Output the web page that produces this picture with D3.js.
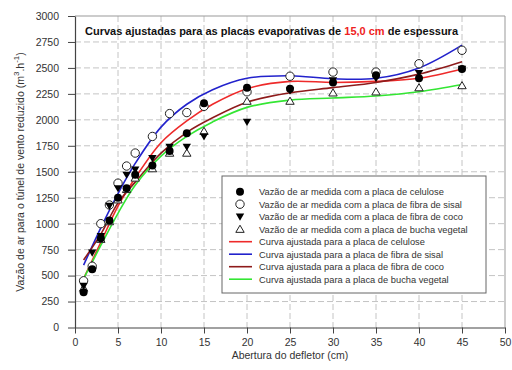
<!DOCTYPE html>
<html>
<head>
<meta charset="utf-8">
<script src="https://cdn.jsdelivr.net/npm/d3@7"></script>
<style>
  html, body { margin: 0; padding: 0; background: #fff; }
  svg { display: block; font-family: "Liberation Sans", Arial, sans-serif; }
</style>
</head>
<body>
<svg id="chart" width="512" height="370"></svg>
<script>
// Measured openings of the deflector (cm)
const openings = [1, 2, 3, 4, 5, 6, 7, 9, 11, 13, 15, 20, 25, 30, 35, 40, 45];

// Measured air flow (m3/h) for each pad
const celulose = [340, 560, 860, 1030, 1250, 1340, 1470, 1560, 1700, 1870, 2160, 2310, 2300, 2360, 2430, 2400, 2490];
const sisal    = [450, 590, 1000, 1180, 1390, 1555, 1680, 1840, 2060, 2070, 2130, 2270, 2420, 2460, 2460, 2540, 2670];
const coco     = [400, 720, 880, 1170, 1340, 1470, 1520, 1630, 1740, 1740, 1840, 1980, 2280, 2380, 2400, 2450, 2490];
const bucha    = [380, 600, 850, 1020, 1230, 1330, 1440, 1530, 1680, 1680, 1890, 2180, 2180, 2260, 2270, 2310, 2330];

// Fitted curves, sampled along the opening axis
const fitX        = [1, 3, 5, 7, 10, 13, 16, 20, 25, 30, 35, 40, 45];
const fitCelulose = [470, 820, 1170, 1440, 1780, 1990, 2150, 2300, 2370, 2360, 2370, 2400, 2490];
const fitSisal    = [600, 960, 1290, 1580, 1930, 2150, 2290, 2400, 2425, 2395, 2400, 2500, 2720];
const fitCoco     = [650, 900, 1200, 1400, 1680, 1880, 2020, 2170, 2260, 2310, 2360, 2440, 2560];
const fitBucha    = [470, 790, 1100, 1370, 1650, 1840, 1980, 2120, 2190, 2210, 2230, 2270, 2340];

const xTicks = d3.range(0, 51, 5);
const yTicks = d3.range(0, 3001, 250);

const pointLabels = [
  "Vazão de ar medida com a placa de celulose",
  "Vazão de ar medida com a placa de fibra de sisal",
  "Vazão de ar medida com a placa de fibra de coco",
  "Vazão de ar medida com a placa de bucha vegetal"
];
const curveLabels = [
  "Curva ajustada para a placa de celulose",
  "Curva ajustada para a placa de fibra de sisal",
  "Curva ajustada para a placa de fibra de coco",
  "Curva ajustada para a placa de bucha vegetal"
];
const curveColors = ["#ee2a2a", "#2222cc", "#8e1b1b", "#33e633"];

const svg = d3.select("#chart");
const L = 75, R = 505, T = 16, B = 327.5;

const x = d3.scaleLinear().domain([0, 50]).range([L, R]);
const y = d3.scaleLinear().domain([0, 3000]).range([B, T]);

// grid
const grid = svg.append("g");
grid.selectAll(".gx").data(xTicks.filter(d => d > 0 && d < 50)).join("line")
  .attr("x1", d => x(d)).attr("x2", d => x(d)).attr("y1", T).attr("y2", B)
  .attr("stroke", "#c4c4c4").attr("stroke-width", 1).attr("stroke-dasharray", "6,3");
grid.selectAll(".gy").data(yTicks.filter(d => d > 0 && d < 3000)).join("line")
  .attr("x1", L).attr("x2", R).attr("y1", d => y(d)).attr("y2", d => y(d))
  .attr("stroke", "#c4c4c4").attr("stroke-width", 1).attr("stroke-dasharray", "6,3");

// frame top/right
svg.append("line").attr("x1", L).attr("x2", R).attr("y1", T).attr("y2", T)
  .attr("stroke", "#999").attr("stroke-width", 1);
svg.append("line").attr("x1", R).attr("x2", R).attr("y1", T).attr("y2", B)
  .attr("stroke", "#999").attr("stroke-width", 1);

// axes
const xAxis = d3.axisBottom(x).tickValues(xTicks).tickFormat(d3.format("d"))
  .tickSize(6).tickPadding(5).tickSizeOuter(0);
const yAxis = d3.axisLeft(y).tickValues(yTicks).tickFormat(d3.format("d"))
  .tickSize(7).tickPadding(9).tickSizeOuter(0);
const gx = svg.append("g").attr("transform", `translate(0,${B})`).call(xAxis);
const gy = svg.append("g").attr("transform", `translate(${L},0)`).call(yAxis);
[gx, gy].forEach(g => {
  g.selectAll("path").attr("stroke", "#444").attr("stroke-width", 1.2);
  g.selectAll("line").attr("stroke", "#444");
  g.selectAll("text").attr("fill", "#333").style("font-size", "10.5px")
    .style("font-family", "Liberation Sans, Arial, sans-serif");
});

// fitted curves
const line = d3.line().x(d => x(d[0])).y(d => y(d[1])).curve(d3.curveCatmullRom.alpha(0.5));
const fits = [fitCelulose, fitSisal, fitCoco, fitBucha];
fits.forEach((vals, i) => {
  svg.append("path").datum(fitX.map((v, k) => [v, vals[k]]))
    .attr("d", line).attr("fill", "none")
    .attr("stroke", curveColors[i]).attr("stroke-width", 1.6);
});

// marker drawing
const triDown = r => `M${-r},${-r * 0.75}L${r},${-r * 0.75}L0,${r * 0.95}Z`;
const triUp = r => `M${-r},${r * 0.75}L${r},${r * 0.75}L0,${-r * 0.95}Z`;
function marker(g, kind) {
  if (kind === 0) g.append("circle").attr("r", 4).attr("fill", "#000");
  else if (kind === 1) g.append("circle").attr("r", 4.2).attr("fill", "#fff").attr("stroke", "#222").attr("stroke-width", 1);
  else if (kind === 2) g.append("path").attr("d", triDown(4.2)).attr("fill", "#000");
  else g.append("path").attr("d", triUp(4.2)).attr("fill", "#fff").attr("stroke", "#222").attr("stroke-width", 1);
}

const series = [celulose, sisal, coco, bucha];
// draw open marks first, filled marks on top
[3, 1, 2, 0].forEach(i => {
  series[i].forEach((v, k) => {
    const g = svg.append("g").attr("transform", `translate(${x(openings[k])},${y(v)})`);
    marker(g, i);
  });
});

// title
const title = svg.append("text").attr("x", 85).attr("y", 35)
  .style("font-size", "11px").style("font-weight", "bold").attr("fill", "#111");
title.append("tspan").text("Curvas ajustadas para as placas evaporativas de ");
title.append("tspan").attr("fill", "#ee2222").text("15,0 cm");
title.append("tspan").text(" de espessura");

// legend
const lg = svg.append("g");
lg.append("rect").attr("x", 222).attr("y", 176).attr("width", 264).attr("height", 117)
  .attr("fill", "#fff").attr("stroke", "#666").attr("stroke-width", 1);
const rowY = i => 191.7 + i * 12.5;
pointLabels.forEach((t, i) => {
  const g = lg.append("g").attr("transform", `translate(240,${rowY(i)})`);
  marker(g, i);
  lg.append("text").attr("x", 259).attr("y", rowY(i) + 3.3).text(t)
    .style("font-size", "9.3px").attr("fill", "#333");
});
curveLabels.forEach((t, i) => {
  const yy = rowY(i + 4);
  lg.append("line").attr("x1", 229).attr("x2", 252).attr("y1", yy).attr("y2", yy)
    .attr("stroke", curveColors[i]).attr("stroke-width", 1.6);
  lg.append("text").attr("x", 259).attr("y", yy + 3.3).text(t)
    .style("font-size", "9.3px").attr("fill", "#333");
});

// axis titles
svg.append("text").attr("x", x(25)).attr("y", 359).attr("text-anchor", "middle")
  .style("font-size", "10.5px").attr("fill", "#333").text("Abertura do defletor (cm)");

const yl = svg.append("text").attr("transform", "translate(24,172) rotate(-90)")
  .attr("text-anchor", "middle").style("font-size", "10.5px").attr("fill", "#333");
yl.append("tspan").text("Vazão de ar para o túnel de vento reduzido (m");
yl.append("tspan").attr("dy", -5).style("font-size", "8px").text("3");
yl.append("tspan").attr("dy", 5).text(".h");
yl.append("tspan").attr("dy", -5).style("font-size", "8px").text("-1");
yl.append("tspan").attr("dy", 5).text(")");
</script>
</body>
</html>
